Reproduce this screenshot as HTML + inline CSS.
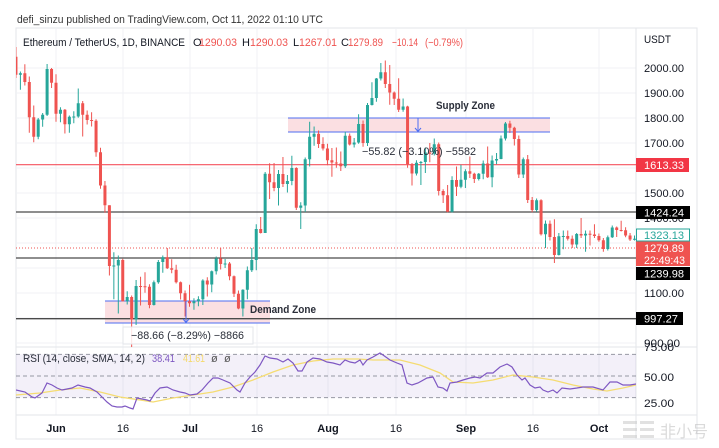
<!DOCTYPE html>
<html><head><meta charset="utf-8"><style>
html,body{margin:0;padding:0;background:#fff;}
svg{display:block;font-family:"Liberation Sans","Noto Sans CJK SC",sans-serif;}
</style></head><body>
<svg id="s" width="719" height="448" viewBox="0 0 719 448" xmlns="http://www.w3.org/2000/svg">
<defs><clipPath id="cp"><rect x="16" y="28" width="620" height="319"/></clipPath>
<clipPath id="cr"><rect x="16" y="347" width="620" height="68"/></clipPath></defs>
<rect x="0" y="0" width="719" height="448" fill="#fff"/>
<!-- header -->
<text x="17" y="23" font-size="11" fill="#333" textLength="306" lengthAdjust="spacingAndGlyphs">defi_sinzu published on TradingView.com, Oct 11, 2022 01:10 UTC</text>
<rect x="16" y="28" width="681" height="411" fill="#fff" stroke="#e3e5ea" stroke-width="1"/>
<!-- grid -->
<g stroke="#f0f2f6" stroke-width="1" id="grid">
<line x1="56" y1="28" x2="56" y2="415"/><line x1="123" y1="28" x2="123" y2="415"/><line x1="190" y1="28" x2="190" y2="415"/><line x1="257" y1="28" x2="257" y2="415"/><line x1="328" y1="28" x2="328" y2="415"/><line x1="396" y1="28" x2="396" y2="415"/><line x1="466" y1="28" x2="466" y2="415"/><line x1="533" y1="28" x2="533" y2="415"/><line x1="599" y1="28" x2="599" y2="415"/>
<line x1="16" y1="68" x2="636" y2="68"/><line x1="16" y1="93" x2="636" y2="93"/><line x1="16" y1="118" x2="636" y2="118"/><line x1="16" y1="143" x2="636" y2="143"/><line x1="16" y1="168" x2="636" y2="168"/><line x1="16" y1="193" x2="636" y2="193"/><line x1="16" y1="218" x2="636" y2="218"/><line x1="16" y1="243" x2="636" y2="243"/><line x1="16" y1="268" x2="636" y2="268"/><line x1="16" y1="293" x2="636" y2="293"/><line x1="16" y1="318" x2="636" y2="318"/><line x1="16" y1="343" x2="636" y2="343"/>
</g>
<!-- panel separators -->
<line x1="636" y1="28" x2="636" y2="439" stroke="#e3e5ea"/>
<line x1="16" y1="347" x2="697" y2="347" stroke="#e3e5ea"/>
<line x1="16" y1="415" x2="697" y2="415" stroke="#e3e5ea"/>

<!-- zones -->
<rect x="288" y="118" width="262" height="14" fill="#fbdfe2"/>
<line x1="288" y1="118" x2="550" y2="118" stroke="#4d6ef2" stroke-width="1"/>
<line x1="288" y1="132" x2="550" y2="132" stroke="#4d6ef2" stroke-width="1"/>
<rect x="105" y="301" width="165" height="22" fill="#fbdfe2"/>
<line x1="105" y1="301" x2="270" y2="301" stroke="#4d6ef2" stroke-width="1"/>
<line x1="105" y1="323" x2="270" y2="323" stroke="#4d6ef2" stroke-width="1"/>

<!-- horizontal levels -->
<line x1="16" y1="164.7" x2="636" y2="164.7" stroke="#f4525f" stroke-width="1.2"/>
<line x1="16" y1="212" x2="636" y2="212" stroke="#4a4a4a" stroke-width="1.3"/>
<line x1="16" y1="258" x2="636" y2="258" stroke="#4a4a4a" stroke-width="1.3"/>
<line x1="16" y1="318.7" x2="636" y2="318.7" stroke="#4a4a4a" stroke-width="1.3"/>
<line x1="16" y1="248" x2="636" y2="248" stroke="#ef5350" stroke-width="1" stroke-dasharray="1,2"/>

<g id="candles" clip-path="url(#cp)"></g>

<!-- measure arrows -->
<line x1="418" y1="118" x2="418" y2="131" stroke="#4d6ef2" stroke-width="1"/>
<polyline points="415,128 418,131.5 421,128" fill="none" stroke="#4d6ef2" stroke-width="1"/>
<line x1="186" y1="301" x2="186" y2="322" stroke="#4d6ef2" stroke-width="1"/>
<polyline points="183,319 186,322.5 189,319" fill="none" stroke="#4d6ef2" stroke-width="1"/>

<rect x="123" y="327" width="130" height="17" fill="#fff" fill-opacity="0.85" stroke="#e3e5ea"/>
<text x="131" y="339" font-size="11" fill="#2a2e39" textLength="113" lengthAdjust="spacingAndGlyphs">−88.66 (−8.29%) −8866</text>
<text x="362" y="155" font-size="11" fill="#2a2e39" textLength="114" lengthAdjust="spacingAndGlyphs">−55.82 (−3.10%) −5582</text>
<text x="436" y="109" font-size="11" font-weight="bold" fill="#2a2e39" textLength="59" lengthAdjust="spacingAndGlyphs">Supply Zone</text>
<text x="250" y="313" font-size="11" font-weight="bold" fill="#2a2e39" textLength="66" lengthAdjust="spacingAndGlyphs">Demand Zone</text>

<!-- legend line 2 -->
<g font-size="11">
<text x="23" y="46" fill="#131722" textLength="162" lengthAdjust="spacingAndGlyphs">Ethereum / TetherUS, 1D, BINANCE</text>
<text x="193" y="46" fill="#131722">O</text><text x="199" y="46" fill="#ef5350" textLength="38" lengthAdjust="spacingAndGlyphs">1290.03</text>
<text x="242" y="46" fill="#131722">H</text><text x="250" y="46" fill="#ef5350" textLength="38" lengthAdjust="spacingAndGlyphs">1290.03</text>
<text x="293" y="46" fill="#131722">L</text><text x="299" y="46" fill="#ef5350" textLength="38" lengthAdjust="spacingAndGlyphs">1267.01</text>
<text x="341" y="46" fill="#131722">C</text><text x="348" y="46" fill="#ef5350" textLength="35" lengthAdjust="spacingAndGlyphs">1279.89</text>
<text x="392" y="46" fill="#ef5350" textLength="26" lengthAdjust="spacingAndGlyphs">−10.14</text>
<text x="425" y="46" fill="#ef5350" textLength="38" lengthAdjust="spacingAndGlyphs">(−0.79%)</text>
</g>

<!-- RSI pane -->
<rect x="16" y="354.4" width="620" height="43.2" fill="#7e57c2" fill-opacity="0.09"/>
<g stroke="#787b86" stroke-width="1" stroke-dasharray="4,3" opacity="0.75">
<line x1="16" y1="354.4" x2="636" y2="354.4"/><line x1="16" y1="376" x2="636" y2="376"/><line x1="16" y1="397.6" x2="636" y2="397.6"/>
</g>
<g clip-path="url(#cr)">
<polyline id="sma" fill="none" stroke="#f5dc72" stroke-width="1.3" points="16,395 40,393 60,390 80,388 100,392 120,397 140,400 153,402 173,398 193,395 213,392 233,387 253,380 273,372 293,365 313,361 333,359 358,359 373,360 400,360 420,365 440,373 453,382 473,383 493,380 513,375 533,377 553,380 573,385 593,389 607,391 623,388 636,385"/>
<polyline id="rsi" fill="none" stroke="#7e57c2" stroke-width="1.2" points="16,390 25,392 32,397 35,398 42,393 47,383 52,385 57,388 62,390 67,389 72,388 78,385 85,387 90,388 97,392 102,397 107,402 112,406 117,407 122,407 125,406 130,408 133,409 137,398 142,399 147,400 150,401 155,393 160,388 167,387 173,390 180,392 185,393 190,395 197,394 202,390 208,383 213,378 218,378 223,380 230,383 237,390 240,392 245,383 250,377 255,372 260,365 265,356 270,358 277,359 283,362 288,359 293,363 298,371 302,371 307,362 313,358 320,359 327,362 333,363 340,365 345,360 350,362 355,363 360,360 363,365 367,360 373,357 380,353 383,355 390,360 397,363 402,365 407,383 412,385 418,383 427,378 433,377 438,387 443,388 447,391 450,383 457,382 463,380 470,378 475,377 480,378 487,373 493,373 500,367 507,364 512,367 517,375 522,380 525,378 530,385 535,388 540,387 543,390 548,392 553,390 557,393 562,388 570,389 577,388 583,387 593,387 603,390 610,382 617,382 623,385 630,385 636,384"/>
</g>
<g font-size="11">
<text x="23" y="362" fill="#2a2e39" textLength="122" lengthAdjust="spacingAndGlyphs">RSI (14, close, SMA, 14, 2)</text>
<text x="152" y="362" fill="#7e57c2" textLength="23" lengthAdjust="spacingAndGlyphs">38.41</text>
<text x="183" y="362" fill="#f5d96b" textLength="22" lengthAdjust="spacingAndGlyphs">41.61</text>
<text x="211" y="362" fill="#555">ø</text>
<text x="224" y="362" fill="#555">ø</text>
</g>

<!-- time axis -->
<g font-size="11" fill="#131722" text-anchor="middle">
<text x="56" y="432" font-weight="bold">Jun</text>
<text x="123" y="432">16</text>
<text x="190" y="432" font-weight="bold">Jul</text>
<text x="257" y="432">16</text>
<text x="328" y="432" font-weight="bold">Aug</text>
<text x="396" y="432">16</text>
<text x="466" y="432" font-weight="bold">Sep</text>
<text x="533" y="432">16</text>
<text x="599" y="432" font-weight="bold">Oct</text>
</g>

<!-- price axis -->
<g font-size="11" fill="#131722">
<text x="644" y="43" textLength="27" lengthAdjust="spacingAndGlyphs">USDT</text>
<text x="644" y="72" textLength="40" lengthAdjust="spacingAndGlyphs">2000.00</text>
<text x="644" y="97" textLength="40" lengthAdjust="spacingAndGlyphs">1900.00</text>
<text x="644" y="122" textLength="40" lengthAdjust="spacingAndGlyphs">1800.00</text>
<text x="644" y="147" textLength="40" lengthAdjust="spacingAndGlyphs">1700.00</text>
<text x="644" y="197" textLength="40" lengthAdjust="spacingAndGlyphs">1500.00</text>
<text x="644" y="222" textLength="40" lengthAdjust="spacingAndGlyphs">1400.00</text>
<text x="644" y="297" textLength="40" lengthAdjust="spacingAndGlyphs">1100.00</text>
<text x="644" y="347" textLength="36" lengthAdjust="spacingAndGlyphs">900.00</text>
<text x="644" y="351" textLength="30" lengthAdjust="spacingAndGlyphs">75.00</text>
<text x="644" y="381" textLength="30" lengthAdjust="spacingAndGlyphs">50.00</text>
<text x="644" y="407" textLength="30" lengthAdjust="spacingAndGlyphs">25.00</text>
</g>
<rect x="636" y="158" width="53" height="14" fill="#f23645"/>
<text x="644" y="169" font-size="11" fill="#fff" textLength="40" lengthAdjust="spacingAndGlyphs">1613.33</text>
<rect x="636" y="206" width="54" height="13" fill="#000"/>
<text x="644" y="216.5" font-size="11" fill="#fff" textLength="40" lengthAdjust="spacingAndGlyphs">1424.24</text>
<rect x="636.5" y="229" width="53" height="12" fill="#fff" stroke="#26a69a"/>
<text x="644" y="239" font-size="11" fill="#26a69a" textLength="40" lengthAdjust="spacingAndGlyphs">1323.13</text>
<rect x="636" y="241.5" width="54" height="24.5" fill="#ef5350"/>
<text x="644" y="252" font-size="11" fill="#fff" textLength="40" lengthAdjust="spacingAndGlyphs">1279.89</text>
<text x="644" y="264" font-size="11" fill="#fff" textLength="41" lengthAdjust="spacingAndGlyphs">22:49:43</text>
<rect x="636" y="267" width="54" height="13" fill="#000"/>
<text x="644" y="277.5" font-size="11" fill="#fff" textLength="40" lengthAdjust="spacingAndGlyphs">1239.98</text>
<rect x="636" y="312" width="47" height="13" fill="#000"/>
<text x="644" y="322.5" font-size="11" fill="#fff" textLength="34" lengthAdjust="spacingAndGlyphs">997.27</text>

<!-- watermark -->
<g opacity="0.55">
<rect x="623" y="421" width="14" height="3" fill="#c9c9c9"/><rect x="623" y="428" width="14" height="3" fill="#c9c9c9"/><rect x="623" y="435" width="14" height="3" fill="#c9c9c9"/>
<rect x="640" y="421" width="14" height="3" fill="#c9c9c9"/><rect x="640" y="428" width="14" height="3" fill="#c9c9c9"/><rect x="640" y="435" width="14" height="3" fill="#c9c9c9"/>
<text x="660" y="437" font-size="16" fill="#bdbdbd" font-family="'Noto Sans CJK SC',sans-serif">非小号</text>
</g>
</svg>
<script>
(function(){
var D=[
[2045,2084,1960,1973],[1973,1986,1913,1979],[1979,2015,1930,1944],[1944,1966,1741,1803],[1803,1850,1703,1725],[1725,1800,1715,1794],[1794,1820,1765,1813],[1813,2016,1808,1996],[1996,2000,1920,1941],
[1941,1975,1785,1817],[1817,1843,1783,1833],[1833,1836,1738,1775],[1775,1810,1741,1805],[1805,1827,1779,1806],[1806,1918,1801,1859],[1859,1868,1726,1813],[1813,1830,1774,1792],[1792,1823,1766,1789],[1789,1795,1645,1663],
[1663,1681,1517,1530],[1530,1548,1421,1451],[1451,1451,1170,1208],[1208,1263,1075,1210],[1210,1250,1018,1232],[1232,1237,1066,1067],[1067,1107,1054,1084],[1084,1090,880,994],[994,1152,972,1128],[1128,1165,1050,1127],
[1127,1183,1101,1125],[1125,1135,1039,1052],[1052,1150,1050,1143],[1143,1232,1137,1224],[1224,1250,1181,1243],[1243,1280,1196,1199],[1199,1235,1179,1193],[1193,1213,1138,1143],[1143,1146,1074,1099],[1099,1110,1006,1067],
[1067,1133,1045,1059],[1059,1079,1033,1067],[1067,1087,1047,1075],[1075,1155,1052,1150],[1150,1163,1086,1134],[1134,1190,1103,1187],[1187,1246,1174,1238],[1238,1281,1194,1216],[1216,1236,1200,1218],[1218,1224,1151,1167],
[1167,1170,1084,1097],[1097,1110,1035,1038],[1038,1115,1006,1113],[1113,1206,1075,1191],[1191,1280,1184,1232],[1232,1375,1191,1356],[1356,1404,1338,1340],[1340,1584,1340,1577],[1577,1619,1476,1543],[1543,1620,1507,1520],
[1520,1592,1450,1576],[1576,1644,1524,1536],[1536,1572,1502,1548],[1548,1649,1531,1600],[1600,1603,1432,1441],[1441,1463,1356,1450],[1450,1642,1424,1635],[1635,1785,1606,1725],[1725,1766,1689,1737],[1737,1750,1680,1696],[1696,1723,1670,1678],
[1678,1697,1611,1631],[1631,1680,1565,1622],[1622,1682,1601,1618],[1618,1666,1588,1607],[1607,1745,1600,1729],[1729,1738,1690,1694],[1694,1720,1682,1702],[1702,1815,1697,1776],[1776,1790,1685,1700],[1700,1860,1688,1852],
[1852,1943,1850,1880],[1880,1960,1865,1958],[1958,2020,1950,1983],[1983,2030,1920,1936],[1936,2012,1853,1902],[1902,1906,1852,1877],[1877,1959,1824,1833],[1833,1878,1825,1846],[1846,1849,1601,1615],[1615,1620,1530,1578],
[1578,1631,1570,1621],[1621,1628,1532,1624],[1624,1682,1580,1662],[1662,1700,1623,1657],[1657,1718,1650,1695],[1695,1702,1490,1508],[1508,1515,1460,1491],[1491,1532,1423,1425],[1425,1567,1422,1552],[1552,1606,1488,1525],[1525,1613,1519,1553],
[1553,1595,1520,1587],[1587,1646,1560,1577],[1577,1581,1540,1556],[1556,1580,1550,1577],[1577,1630,1555,1618],[1618,1686,1560,1563],[1563,1650,1523,1630],[1630,1660,1615,1636],[1636,1730,1635,1718],[1718,1784,1710,1778],
[1778,1789,1740,1761],[1761,1765,1690,1716],[1716,1730,1560,1574],[1574,1642,1560,1635],[1635,1652,1460,1472],[1472,1484,1423,1432],[1432,1478,1425,1471],[1471,1475,1330,1335],[1335,1390,1280,1377],[1377,1390,1310,1324],
[1324,1395,1220,1252],[1252,1340,1250,1327],[1327,1350,1275,1328],[1328,1350,1310,1317],[1317,1330,1280,1294],[1294,1340,1280,1336],[1336,1400,1320,1330],[1330,1350,1265,1337],[1337,1350,1290,1334],[1334,1375,1320,1328],
[1328,1338,1305,1311],[1311,1320,1265,1276],[1276,1330,1270,1323],[1323,1370,1320,1362],[1362,1366,1324,1352],[1352,1389,1346,1351],[1351,1363,1323,1330],[1330,1340,1308,1314],[1314,1330,1310,1317],[1317,1325,1285,1290],[1290,1290,1267,1280]
];
function py(p){return 68+(2000-p)*0.25;}
var h='';
for(var i=0;i<D.length;i++){
 var d=D[i],x=56+(i-9)*4.45,o=d[0],H=d[1],L=d[2],c=d[3];
 var col=c>=o?'#26a69a':'#ef5350';
 var t=Math.min(py(o),py(c)),b=Math.max(py(o),py(c));
 h+='<line x1="'+x.toFixed(2)+'" y1="'+py(H).toFixed(2)+'" x2="'+x.toFixed(2)+'" y2="'+py(L).toFixed(2)+'" stroke="'+col+'" stroke-width="1"/>';
 h+='<rect x="'+(x-1.5).toFixed(2)+'" y="'+t.toFixed(2)+'" width="3" height="'+Math.max(1,b-t).toFixed(2)+'" fill="'+col+'"/>';
}
document.getElementById('candles').innerHTML=h;
})();
</script>
</body></html>
